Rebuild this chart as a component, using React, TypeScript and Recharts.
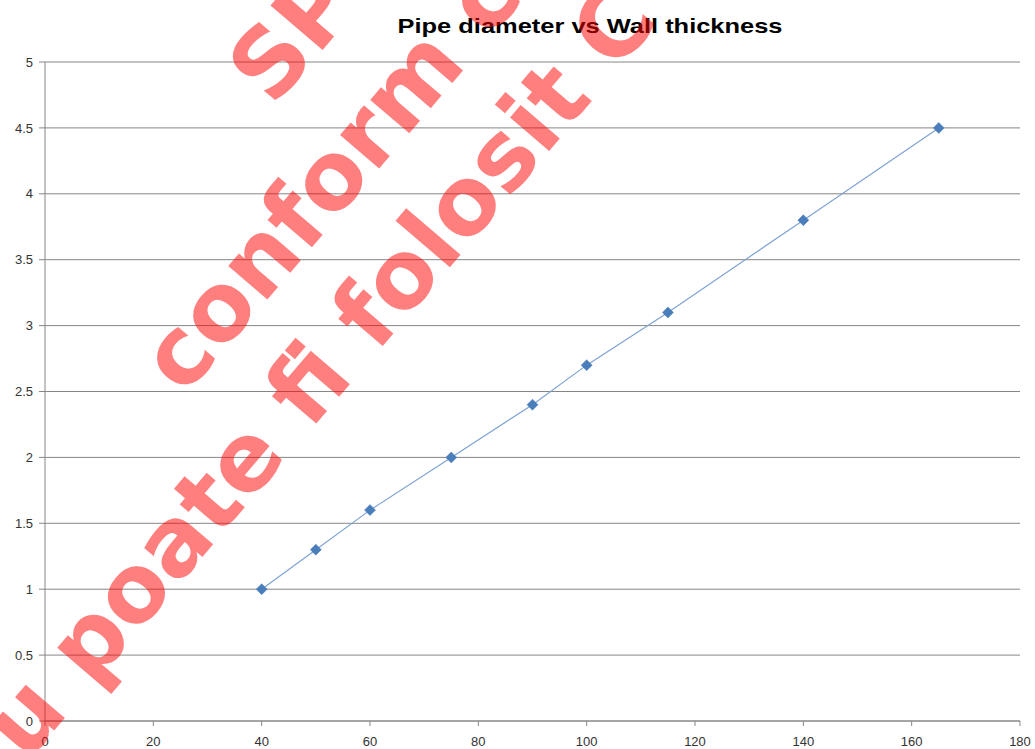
import React from "react";
import {
  ScatterChart,
  Scatter,
  XAxis,
  YAxis,
  CartesianGrid,
} from "recharts";

// pipe outer diameter (mm) vs wall thickness (mm)
const diameters = [40, 50, 60, 75, 90, 100, 115, 140, 165];
const thickness = [1, 1.3, 1.6, 2, 2.4, 2.7, 3.1, 3.8, 4.5];
const xTicks = [0, 20, 40, 60, 80, 100, 120, 140, 160, 180];
const yTicks = [0, 0.5, 1, 1.5, 2, 2.5, 3, 3.5, 4, 4.5, 5];

const title = "Pipe diameter vs Wall thickness";
const stampLines = ["SP", "conform c", "nu poate fi folosit C"];

const points = diameters.map((d, i) => ({ x: d, y: thickness[i] }));

const GRID = "#868686";
const tickStyle = {
  fill: "#333",
  fontSize: 13,
  fontFamily: "'Liberation Sans', Arial, sans-serif",
};

// Excel-style diamond marker
function Diamond(props: { cx?: number; cy?: number }) {
  const { cx, cy } = props;
  if (cx == null || cy == null) return null;
  const r = 5.5;
  return (
    <polygon
      points={`${cx},${cy - r} ${cx + r},${cy} ${cx},${cy + r} ${cx - r},${cy}`}
      fill="#4a7ebb"
      stroke="#4a7ebb"
      strokeWidth={0.5}
    />
  );
}

// the red diagonal stamp printed over the chart
function Stamp() {
  const starts: [number, number][] = [
    [273, 108],
    [184, 397],
    [-17, 814],
  ];
  return (
    <svg
      width={1035}
      height={749}
      style={{ position: "absolute", left: 0, top: 0, pointerEvents: "none" }}
    >
      {stampLines.map((t, i) => (
        <text
          key={t}
          x={starts[i][0]}
          y={starts[i][1]}
          transform={`rotate(-49.5 ${starts[i][0]} ${starts[i][1]})`}
          fill="#ff0000"
          fillOpacity={0.5}
          fontFamily="'DejaVu Sans', sans-serif"
          fontWeight="bold"
          fontSize={94}
        >
          {t}
        </text>
      ))}
    </svg>
  );
}

export default function App() {
  return (
    <div
      style={{
        position: "absolute",
        left: 0,
        top: 0,
        width: 1035,
        height: 749,
        background: "#fff",
        overflow: "hidden",
      }}
    >
      <ScatterChart
        width={1035}
        height={749}
        margin={{ top: 62, right: 15, bottom: 0, left: 0 }}
      >
        <CartesianGrid vertical={false} stroke={GRID} strokeWidth={1} />
        <XAxis
          type="number"
          dataKey="x"
          domain={[0, 180]}
          ticks={xTicks}
          height={28}
          tick={tickStyle}
          tickSize={5}
          tickMargin={11}
          stroke={GRID}
          interval={0}
        />
        <YAxis
          type="number"
          dataKey="y"
          domain={[0, 5]}
          ticks={yTicks}
          width={45}
          tick={tickStyle}
          tickSize={6}
          tickMargin={6}
          stroke={GRID}
          interval={0}
        />
        <Scatter
          data={points}
          line={{ stroke: "#7ea3d3", strokeWidth: 1.2 }}
          lineType="joint"
          shape={<Diamond />}
          isAnimationActive={false}
        />
        <text
          x={590}
          y={33}
          textAnchor="middle"
          fontFamily="'Liberation Sans', Arial, sans-serif"
          fontWeight="bold"
          fontSize={21}
          fill="#000"
          textLength={385}
          lengthAdjust="spacingAndGlyphs"
        >
          {title}
        </text>
      </ScatterChart>
      <Stamp />
    </div>
  );
}
